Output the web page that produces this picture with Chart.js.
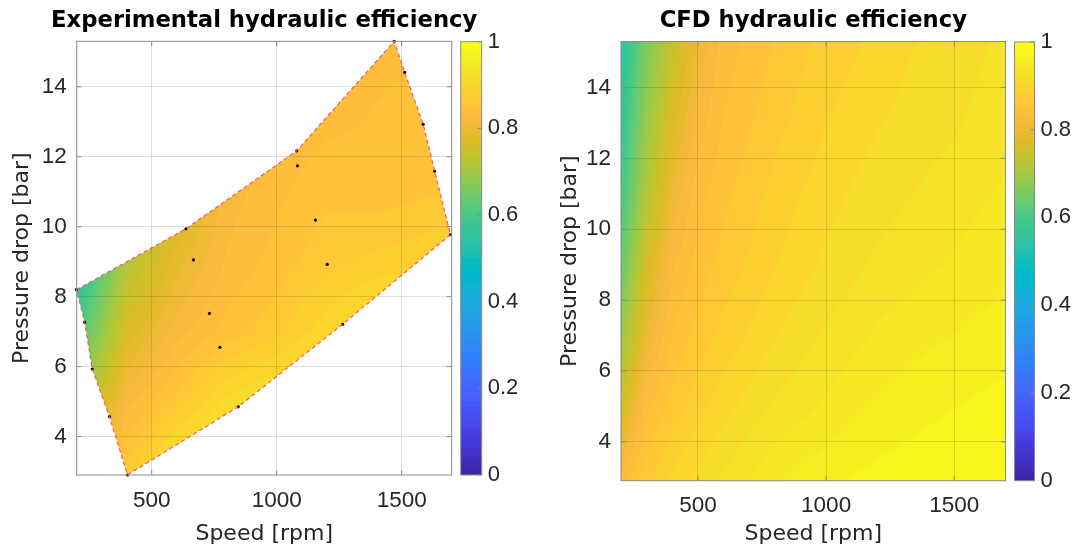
<!DOCTYPE html>
<html>
<head>
<meta charset="utf-8">
<script src="https://cdn.jsdelivr.net/npm/chart.js@4.4.1/dist/chart.umd.min.js"></script>
<style>
  body { margin: 0; background: #fff; }
  #wrap { position: relative; width: 1074px; height: 552px; overflow: hidden; }
  canvas { position: absolute; top: 0; }
</style>
</head>
<body>
<div id="wrap">
  <canvas id="expChart" width="532" height="552" style="left:0px;width:532px;height:552px"></canvas>
  <canvas id="expBar" width="80" height="552" style="left:455px;width:80px;height:552px"></canvas>
  <canvas id="cfdChart" width="470" height="552" style="left:540px;width:470px;height:552px"></canvas>
  <canvas id="cfdBar" width="66" height="552" style="left:1008px;width:66px;height:552px"></canvas>
</div>
<script>
/* tick labels */
const speedTicks = [500, 1000, 1500];
const pressureTicks = [4, 6, 8, 10, 12, 14];
const effTicks = [0, 0.2, 0.4, 0.6, 0.8, 1];
const speedRange = [200, 1700];
const pressureRange = [2.9, 15.3];

/* experimental: measured points on the envelope (in order round it) */
const edgeSpeed    = [199, 637, 1080, 1470, 1512, 1586, 1632, 1695, 1264, 846, 403, 331, 262, 232];
const edgePressure = [8.2, 9.94, 12.17, 15.3, 14.41, 12.93, 11.59, 9.77, 7.21, 4.85, 2.9, 4.57, 5.93, 7.27];
/* experimental: measured points inside */
const innerSpeed    = [1083, 667, 1155, 1202, 731, 773];
const innerPressure = [11.74, 9.05, 10.19, 8.92, 7.52, 6.55];

/* experimental efficiency surface (rows = pressure, cols = speed) */
const expSpeed    = [200, 400, 600, 800, 1000, 1200, 1400, 1700];
const expPressure = [2.9, 5, 7, 9, 11, 13, 15.3];
const expEff = [
  [0.80, 0.87, 0.935, 0.96, 0.97, 0.975, 0.98, 0.985],
  [0.70, 0.82, 0.865, 0.91, 0.93, 0.95, 0.96, 0.97],
  [0.60, 0.77, 0.82, 0.85, 0.87, 0.90, 0.925, 0.95],
  [0.52, 0.72, 0.79, 0.83, 0.85, 0.87, 0.88, 0.89],
  [0.45, 0.66, 0.75, 0.82, 0.84, 0.855, 0.85, 0.86],
  [0.40, 0.62, 0.72, 0.79, 0.83, 0.84, 0.845, 0.85],
  [0.35, 0.58, 0.69, 0.77, 0.815, 0.835, 0.84, 0.845]
];

/* CFD efficiency surface */
const cfdSpeed    = [200, 300, 400, 500, 600, 800, 1000, 1200, 1400, 1700];
const cfdPressure = [2.9, 5, 7, 9, 11, 13, 15.3];
const cfdEff = [
  [0.835, 0.87, 0.895, 0.91, 0.925, 0.95, 0.965, 0.975, 0.98, 0.985],
  [0.76, 0.84, 0.865, 0.885, 0.90, 0.925, 0.94, 0.955, 0.965, 0.975],
  [0.69, 0.80, 0.845, 0.865, 0.88, 0.905, 0.925, 0.94, 0.95, 0.96],
  [0.63, 0.765, 0.825, 0.85, 0.865, 0.89, 0.91, 0.925, 0.935, 0.95],
  [0.59, 0.72, 0.80, 0.838, 0.855, 0.88, 0.90, 0.915, 0.925, 0.94],
  [0.565, 0.69, 0.775, 0.82, 0.845, 0.87, 0.89, 0.905, 0.915, 0.93],
  [0.54, 0.66, 0.74, 0.80, 0.835, 0.86, 0.88, 0.895, 0.91, 0.925]
];

/* parula colormap, 64 steps */
const PARULA = [
[0.2422,0.1504,0.6603],[0.2504,0.1650,0.7076],[0.2578,0.1818,0.7511],[0.2647,0.1978,0.7952],
[0.2706,0.2147,0.8364],[0.2751,0.2342,0.8710],[0.2783,0.2559,0.8991],[0.2803,0.2782,0.9221],
[0.2813,0.3006,0.9414],[0.2810,0.3228,0.9579],[0.2795,0.3447,0.9717],[0.2760,0.3667,0.9829],
[0.2699,0.3892,0.9906],[0.2602,0.4123,0.9952],[0.2440,0.4358,0.9988],[0.2206,0.4603,0.9973],
[0.1963,0.4847,0.9892],[0.1834,0.5074,0.9798],[0.1786,0.5289,0.9682],[0.1764,0.5499,0.9520],
[0.1687,0.5703,0.9359],[0.1540,0.5902,0.9218],[0.1460,0.6091,0.9079],[0.1380,0.6276,0.8973],
[0.1248,0.6459,0.8883],[0.1113,0.6635,0.8763],[0.0952,0.6798,0.8598],[0.0689,0.6948,0.8394],
[0.0297,0.7082,0.8163],[0.0036,0.7197,0.7917],[0.0067,0.7293,0.7660],[0.0433,0.7374,0.7394],
[0.0964,0.7452,0.7109],[0.1408,0.7525,0.6816],[0.1717,0.7596,0.6510],[0.1938,0.7668,0.6200],
[0.2161,0.7743,0.5896],[0.2470,0.7818,0.5570],[0.2906,0.7889,0.5212],[0.3406,0.7938,0.4840],
[0.3909,0.7963,0.4460],[0.4456,0.7965,0.4040],[0.5044,0.7932,0.3480],[0.5616,0.7903,0.3181],
[0.6174,0.7867,0.2765],[0.6720,0.7793,0.2394],[0.7242,0.7691,0.2056],[0.7738,0.7598,0.1806],
[0.8203,0.7516,0.1634],[0.8634,0.7406,0.1596],[0.9035,0.7330,0.1774],[0.9393,0.7288,0.2100],
[0.9728,0.7298,0.2394],[0.9956,0.7434,0.2371],[0.9970,0.7659,0.2199],[0.9952,0.7893,0.2028],
[0.9892,0.8136,0.1885],[0.9786,0.8386,0.1766],[0.9676,0.8639,0.1643],[0.9610,0.8890,0.1537],
[0.9597,0.9135,0.1423],[0.9628,0.9373,0.1265],[0.9691,0.9606,0.1064],[0.9769,0.9839,0.0805]
];

const FONT = "'DejaVu Sans', sans-serif";
const TICKFONT = "'Liberation Sans', Arial, sans-serif";
const TXT = '#262626';
const GRID = 'rgba(38,38,38,0.15)';
const FRAME = '#8a8a8a';

function parula(v) {
  const k = Math.max(0, Math.min(63, Math.floor(v * 64)));
  return PARULA[k];
}
function rgb(c) {
  return 'rgb(' + Math.round(c[0] * 255) + ',' + Math.round(c[1] * 255) + ',' + Math.round(c[2] * 255) + ')';
}

function findCell(arr, v) {
  let i = 0;
  while (i < arr.length - 2 && v > arr[i + 1]) i++;
  let t = (v - arr[i]) / (arr[i + 1] - arr[i]);
  return [i, Math.max(0, Math.min(1, t))];
}

/* draws the efficiency surface under the grid, using the chart's scales */
const surfacePlugin = {
  id: 'surface',
  beforeDraw(chart, args, opts) {
    const { ctx, chartArea: a, scales: { x, y } } = chart;
    const x0 = Math.floor(a.left), y0 = Math.floor(a.top);
    const w = Math.ceil(a.right) - x0, h = Math.ceil(a.bottom) - y0;
    const off = document.createElement('canvas');
    off.width = w; off.height = h;
    const octx = off.getContext('2d');
    const img = octx.createImageData(w, h);
    const cols = [];
    for (let px = 0; px < w; px++) cols.push(findCell(opts.speed, x.getValueForPixel(x0 + px + 0.5)));
    for (let py = 0; py < h; py++) {
      const [j, t] = findCell(opts.pressure, y.getValueForPixel(y0 + py + 0.5));
      const z0 = opts.eff[j], z1 = opts.eff[j + 1];
      for (let px = 0; px < w; px++) {
        const [i, u] = cols[px];
        const v = (1 - t) * ((1 - u) * z0[i] + u * z0[i + 1]) + t * ((1 - u) * z1[i] + u * z1[i + 1]);
        const c = parula(v);
        const k = (py * w + px) * 4;
        img.data[k] = c[0] * 255; img.data[k + 1] = c[1] * 255; img.data[k + 2] = c[2] * 255; img.data[k + 3] = 255;
      }
    }
    octx.putImageData(img, 0, 0);
    ctx.save();
    ctx.beginPath();
    ctx.rect(a.left, a.top, a.width, a.height);
    ctx.clip();
    if (opts.outlineSpeed) {
      ctx.beginPath();
      opts.outlineSpeed.forEach((s, n) => {
        const px = x.getPixelForValue(s), py = y.getPixelForValue(opts.outlinePressure[n]);
        if (n === 0) ctx.moveTo(px, py); else ctx.lineTo(px, py);
      });
      ctx.closePath();
      ctx.clip();
    }
    ctx.drawImage(off, x0, y0);
    ctx.restore();
  }
};

/* box round the axes with inward ticks, matlab style */
const framePlugin = {
  id: 'frame',
  afterDraw(chart) {
    const { ctx, chartArea: a, scales: { x, y } } = chart;
    ctx.save();
    ctx.strokeStyle = FRAME;
    ctx.lineWidth = 1;
    ctx.beginPath();
    x.ticks.forEach(t => {
      const px = x.getPixelForValue(t.value);
      ctx.moveTo(px, a.bottom); ctx.lineTo(px, a.bottom - 5);
      ctx.moveTo(px, a.top); ctx.lineTo(px, a.top + 5);
    });
    y.ticks.forEach(t => {
      const py = y.getPixelForValue(t.value);
      ctx.moveTo(a.left, py); ctx.lineTo(a.left + 5, py);
      ctx.moveTo(a.right, py); ctx.lineTo(a.right - 5, py);
    });
    ctx.stroke();
    ctx.strokeRect(a.left, a.top, a.width, a.height);
    ctx.restore();
  }
};

const cbFramePlugin = {
  id: 'cbframe',
  afterDraw(chart) {
    const { ctx, chartArea: a, scales: { y } } = chart;
    ctx.save();
    ctx.strokeStyle = FRAME;
    ctx.lineWidth = 1;
    ctx.beginPath();
    y.ticks.forEach(t => {
      const py = y.getPixelForValue(t.value);
      ctx.moveTo(a.right, py); ctx.lineTo(a.right - 4, py);
    });
    ctx.stroke();
    ctx.strokeRect(a.left, a.top, a.width, a.height);
    ctx.restore();
  }
};

function mainChart(id, cfg) {
  const font = { family: FONT, size: 22 };
  const tickFont = { family: TICKFONT, size: 22.5 };
  const scales = {
    x: {
      type: 'linear', min: speedRange[0], max: speedRange[1],
      afterBuildTicks: s => { s.ticks = speedTicks.map(v => ({ value: v })); },
      afterFit: s => { s.height = cfg.xHeight; },
      grid: { color: GRID, drawTicks: false },
      border: { display: false },
      ticks: { font: tickFont, color: TXT, padding: 12, maxRotation: 0, callback: v => String(v) },
      title: { display: true, text: 'Speed [rpm]', font, color: TXT, padding: { top: 4, bottom: 5 } }
    },
    y: {
      type: 'linear', min: pressureRange[0], max: pressureRange[1],
      afterBuildTicks: s => { s.ticks = pressureTicks.map(v => ({ value: v })); },
      afterFit: s => { s.width = cfg.yWidth; },
      grid: { color: GRID, drawTicks: false },
      border: { display: false },
      ticks: { font: tickFont, color: TXT, padding: 10, callback: v => String(v) },
      title: { display: true, text: 'Pressure drop [bar]', font, color: TXT, padding: { top: cfg.yTitlePad, bottom: 0 } }
    }
  };
  if (cfg.rightSpace) {
    // empty right-hand box so the title is centred on the plot and may run past it
    scales.y2 = {
      position: 'right', display: true,
      grid: { display: false, drawTicks: false }, border: { display: false }, ticks: { display: false },
      afterFit: s => { s.width = cfg.rightSpace; }
    };
  }
  return new Chart(document.getElementById(id), {
    type: 'scatter',
    data: { datasets: cfg.datasets },
    options: {
      responsive: false,
      animation: false,
      events: [],
      layout: { padding: { left: 0, right: cfg.padRight, top: 0, bottom: 0 } },
      plugins: {
        legend: { display: false },
        tooltip: { enabled: false },
        title: {
          display: true, text: cfg.title, fullSize: !!cfg.rightSpace, color: '#000',
          font: { family: FONT, size: 22.7, weight: 'bold', lineHeight: 1.2 },
          padding: { top: 7, bottom: cfg.titleBottom }
        },
        surface: cfg.surface
      },
      scales
    },
    plugins: [surfacePlugin, framePlugin]
  });
}

function colorBar(id, cfg) {
  return new Chart(document.getElementById(id), {
    type: 'bar',
    data: {
      labels: [''],
      datasets: [{
        data: [[effTicks[0], effTicks[effTicks.length - 1]]],
        barPercentage: 1, categoryPercentage: 1, borderWidth: 0, borderSkipped: false,
        backgroundColor: c => {
          const ch = c.chart;
          if (!ch.chartArea) return rgb(PARULA[0]);
          const y = ch.scales.y;
          const g = ch.ctx.createLinearGradient(0, y.getPixelForValue(0), 0, y.getPixelForValue(1));
          PARULA.forEach((col, k) => {
            g.addColorStop(k / 64, rgb(col));
            g.addColorStop(Math.min(1, (k + 1) / 64 - 1e-4), rgb(col));
          });
          return g;
        }
      }]
    },
    options: {
      responsive: false,
      animation: false,
      events: [],
      layout: { padding: { left: cfg.padLeft, right: 0, top: cfg.top, bottom: cfg.bottom } },
      plugins: { legend: { display: false }, tooltip: { enabled: false } },
      scales: {
        x: { display: false },
        y: {
          position: 'right', min: 0, max: 1,
          afterBuildTicks: s => { s.ticks = effTicks.map(v => ({ value: v })); },
          afterFit: s => { s.width = cfg.yWidth; },
          grid: { display: false, drawTicks: false },
          border: { display: false },
          ticks: { font: { family: TICKFONT, size: 22 }, color: TXT, padding: 6, callback: v => String(v) }
        }
      }
    },
    plugins: [cbFramePlugin]
  });
}

const edgeLoop = edgeSpeed.map((s, i) => ({ x: s, y: edgePressure[i] }));
edgeLoop.push({ x: edgeSpeed[0], y: edgePressure[0] });
const measured = edgeSpeed.map((s, i) => ({ x: s, y: edgePressure[i] }))
  .concat(innerSpeed.map((s, i) => ({ x: s, y: innerPressure[i] })));

/* Experimental hydraulic efficiency */
mainChart('expChart', {
  title: 'Experimental hydraulic efficiency',
  padRight: 3.6, rightSpace: 76.7, xHeight: 77, yWidth: 76.7, titleBottom: 7.1, yTitlePad: 9,
  surface: { speed: expSpeed, pressure: expPressure, eff: expEff, outlineSpeed: edgeSpeed, outlinePressure: edgePressure },
  datasets: [
    { data: edgeLoop, showLine: true, borderColor: 'rgba(250,75,85,0.9)', borderWidth: 1.2, borderDash: [4, 3],
      pointRadius: 0, fill: false, tension: 0, clip: false },
    { data: measured, showLine: false, pointRadius: 1.6, pointBackgroundColor: '#000', pointBorderWidth: 0, clip: false }
  ]
});
colorBar('expBar', { padLeft: 5.7, top: 41.7, bottom: 77, yWidth: 53.3 });

/* CFD hydraulic efficiency */
mainChart('cfdChart', {
  title: 'CFD hydraulic efficiency',
  padRight: 4.4, xHeight: 71.3, yWidth: 81, titleBottom: 7.3, yTitlePad: 17,
  surface: { speed: cfdSpeed, pressure: cfdPressure, eff: cfdEff },
  datasets: []
});
colorBar('cfdBar', { padLeft: 6.5, top: 41.9, bottom: 71.3, yWidth: 39.5 });
</script>
</body>
</html>
